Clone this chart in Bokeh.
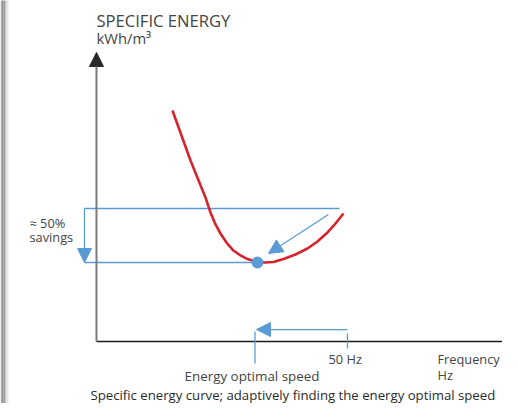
from bokeh.plotting import figure
from bokeh.models import Arrow, NormalHead, Range1d
from bokeh.core.properties import value
from bokeh.embed import file_html
from bokeh.resources import INLINE

# ---- data (frequency in Hz, specific energy in relative units) ----
curve_hz = [15.14, 18.73, 21.71, 22.71, 23.71, 24.70, 25.90, 27.29, 28.69, 30.08,
            32.07, 33.67, 35.26, 37.25, 39.64, 42.03, 44.02, 46.02, 47.61, 49.20]
curve_e = [173.7, 136.1, 108.3, 97.0, 88.0, 81.2, 74.4, 68.4, 64.7, 62.0,
           59.8, 59.4, 59.8, 62.0, 65.4, 69.9, 75.2, 82.0, 88.7, 96.2]

nominal_hz = 50.0
optimal_hz = 32.07
optimal_e = 59.4
start_e = 100.0
upper_line_end_hz = 48.4
bracket_hz = -2.39
diag_start = (46.2, 95.5)
diag_end = (34.26, 66.2)
y_axis_top = 217.3
x_axis_end = 90.0

title_lines = ["SPECIFIC ENERGY", "kWh/m³"]
savings_lines = ["≈ 50%", "savings"]
freq_lines = ["Frequency", "Hz"]
nominal_label = "50 Hz"
optimal_label = "Energy optimal speed"
caption = "Specific energy curve; adaptively finding the energy optimal speed"

RED = "#d8232c"
BLUE = "#5b9bd5"
TXT = "#444444"
FONT = value("Open Sans")

X0, X1 = -19.12, 80.88
p = figure(width=502, height=403, output_backend="svg", toolbar_location=None,
           x_range=Range1d(X0, X1), y_range=Range1d(-46.62, 256.39),
           x_axis_location=None, y_axis_location=None, min_border=0,
           background_fill_color="white", border_fill_color="white")
p.grid.visible = False
p.outline_line_color = None

# page-edge shading at the far left (decoration)
hz_per_px = (X1 - X0) / 502.0
edge_shades = ["#b4b4b4", "#8e8e8e", "#9c9c9c", "#c4c4c4", "#e6e6e6", "#f6f6f6"]
edge_left = [X0 + i * 1.5 * hz_per_px for i in range(len(edge_shades))]
edge_right = [l + 1.5 * hz_per_px for l in edge_left]
p.quad(left=edge_left, right=edge_right, bottom=-60, top=270,
       fill_color=edge_shades, line_color=None)

# axes drawn as lines
p.add_layout(Arrow(end=NormalHead(size=14, fill_color="#2a2a2a", line_color="#2a2a2a"),
                   x_start=0, y_start=0, x_end=0, y_end=y_axis_top,
                   line_color="#7a7a7a", line_width=2))
p.line([0, x_axis_end], [0, 0], line_color="#1a1a1a", line_width=1.5)

# blue guide lines
p.line([bracket_hz, upper_line_end_hz], [start_e, start_e], line_color=BLUE, line_width=1.3)
p.line([bracket_hz, optimal_hz], [optimal_e, optimal_e], line_color=BLUE, line_width=1.3)
p.add_layout(Arrow(end=NormalHead(size=14, fill_color=BLUE, line_color=BLUE),
                   x_start=bracket_hz, y_start=start_e, x_end=bracket_hz, y_end=optimal_e,
                   line_color=BLUE, line_width=1.3))
p.add_layout(Arrow(end=NormalHead(size=14, fill_color=BLUE, line_color=BLUE),
                   x_start=diag_start[0], y_start=diag_start[1], x_end=diag_end[0], y_end=diag_end[1],
                   line_color=BLUE, line_width=1.3))

# bottom frequency arrow and ticks
p.add_layout(Arrow(end=NormalHead(size=14, fill_color=BLUE, line_color=BLUE),
                   x_start=nominal_hz, y_start=9.0, x_end=31.87, y_end=9.0,
                   line_color=BLUE, line_width=1.3))
p.line([nominal_hz, nominal_hz], [6.0, -5.3], line_color=BLUE, line_width=1.3)
p.line([31.57, 31.57], [7.5, -16.5], line_color=BLUE, line_width=1.3)

# red energy curve
p.line(curve_hz, curve_e, line_color=RED, line_width=2.6)
p.scatter([optimal_hz], [optimal_e], size=11, fill_color=BLUE, line_color=BLUE)

# texts
p.text([0], [241.7], text=[title_lines[0]], text_font=FONT, text_font_size="16.6px",
       text_color=TXT, text_baseline="alphabetic")
p.text([0], [228.2], text=[title_lines[1]], text_font=FONT, text_font_size="14.8px",
       text_color=TXT, text_baseline="alphabetic")
p.text([-13.35, -13.35], [89.1, 78.6], text=savings_lines, text_font=FONT,
       text_font_size="12.8px", text_color=TXT, text_baseline="alphabetic")
p.text([46.22], [-13.16], text=[nominal_label], text_font=FONT, text_font_size="12.8px",
       text_color=TXT, text_baseline="alphabetic")
p.text([67.93, 67.93], [-13.16, -25.19], text=freq_lines, text_font=FONT,
       text_font_size="12.8px", text_color=TXT, text_baseline="alphabetic")
p.text([17.53], [-25.94], text=[optimal_label], text_font=FONT, text_font_size="13.4px",
       text_color=TXT, text_baseline="alphabetic")
p.text([-1.2], [-40.6], text=[caption], text_font=FONT, text_font_size="13.2px",
       text_color="#2a2a2a", text_baseline="alphabetic")

open("out.html", "w").write(file_html(p, INLINE))
